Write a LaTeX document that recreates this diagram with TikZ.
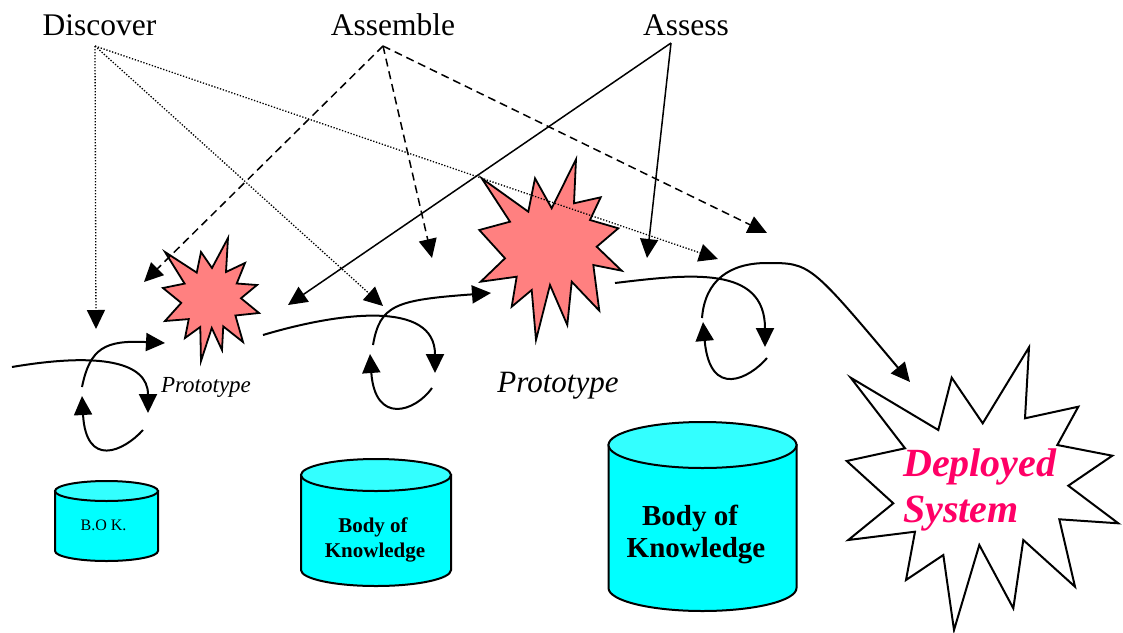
\documentclass[tikz,border=0pt]{standalone}
\usepackage{fontspec}
\setmainfont{Liberation Serif}
\usetikzlibrary{arrows.meta}
\definecolor{starred}{RGB}{255,128,128}
\definecolor{cyl}{RGB}{0,255,255}
\definecolor{cyltop}{RGB}{51,255,255}
\definecolor{deppink}{RGB}{255,0,102}
\begin{document}
\begin{tikzpicture}[x=1pt,y=-1pt,
  tip/.style={-{Triangle[length=19pt,width=18pt]}},
  dotline/.style={tip,line width=1.3pt,dash pattern=on 1.3pt off 1.7pt},
  dashline/.style={tip,line width=1.5pt,dash pattern=on 8pt off 5pt},
  solidline/.style={tip,line width=1.5pt},
  flow/.style={tip,line width=2pt},
  starshape/.style={fill=starred,draw=black,line width=1.8pt,line join=miter},
  depstar/.style={fill=white,draw=black,line width=2pt,line join=miter},
  cylbody/.style={fill=cyl,draw=black,line width=2pt},
  cyltopst/.style={fill=cyltop,draw=black,line width=2pt},
  txt/.style={inner sep=0pt,anchor=base},
  title/.style={txt,font=\fontsize{31.5}{36}\selectfont},
  proto/.style={txt,font=\itshape\fontsize{#1}{#1}\selectfont},
  bok/.style={txt,font=\bfseries\fontsize{#1}{#1}\selectfont},
  dep/.style={inner sep=0pt,anchor=base west,text=deppink,font=\bfseries\itshape\fontsize{40}{46}\selectfont}
]
\useasboundingbox (0,0) rectangle (1123,632);

% ---------- stars ----------
\filldraw[depstar] (850.7,377.7) -- (938.3,430) -- (951.7,377.7) -- (982.7,423.3) -- (1029,347.3) -- (1025,418.3) -- (1078.3,406.7) -- (1057.3,445) -- (1112.3,455.7) -- (1068.3,485.7) -- (1118.3,523.3) -- (1059.3,519.3) -- (1075,586.7) -- (1023.3,540) -- (1013.3,608.3) -- (979.3,545) -- (954,630) -- (943.3,555) -- (906,580) -- (915,531.7) -- (848.3,540) -- (893.3,503.3) -- (846.7,461) -- (905,448.3) -- cycle;

\filldraw[starshape] (165,252) -- (196.75,272.6) -- (201,252) -- (212,268) -- (228,238) -- (226,272) -- (245,263) -- (236.75,283.5) -- (257,285) -- (241,298.25) -- (259,313) -- (235.4,315.5) -- (243,342) -- (223.25,326.4) -- (222,350) -- (211.75,328) -- (201,361) -- (200.25,327) -- (185,338) -- (188.75,319.1) -- (165,321) -- (181.25,302.9) -- (163,288) -- (184.6,283.6) -- cycle;

\filldraw[starshape] (481.7,178.3) -- (528.3,211.7) -- (535,178.3) -- (551.7,208.3) -- (576,159.3) -- (574,203.3) -- (600.7,197.3) -- (590,220) -- (618.3,228.3) -- (596.7,246.7) -- (621.7,270.7) -- (593.3,265) -- (599.3,310.7) -- (571.7,281.7) -- (567.3,325) -- (550,285) -- (536,340) -- (531.7,290) -- (511.7,306.7) -- (516.7,276.7) -- (480.7,281.7) -- (505,258.3) -- (479.3,230) -- (510,221.7) -- cycle;

% ---------- cylinders ----------
\filldraw[cylbody] (55,491) -- (55,551) .. controls (55,556.5) and (78.1,561) .. (106.5,561) .. controls (134.9,561) and (158,556.5) .. (158,551) -- (158,491) -- cycle;
\filldraw[cyltopst] (106.5,491) ellipse [x radius=51.5, y radius=10];

\filldraw[cylbody] (301,475) -- (301,570) .. controls (301,578.8) and (334.6,586) .. (376,586) .. controls (417.4,586) and (451,578.8) .. (451,570) -- (451,475) -- cycle;
\filldraw[cyltopst] (376,475) ellipse [x radius=75, y radius=16];

\filldraw[cylbody] (608.5,445) -- (608.5,588) .. controls (608.5,600.7) and (650.6,611) .. (702.5,611) .. controls (754.4,611) and (796.5,600.7) .. (796.5,588) -- (796.5,445) -- cycle;
\filldraw[cyltopst] (702.5,445) ellipse [x radius=94, y radius=23];

% ---------- texts ----------
\node[title] (discover) at (99.5,35) {Discover};
\node[title] (assemble) at (393,35) {Assemble};
\node[title] (assess) at (686,35) {Assess};

\node[proto=23] (proto1) at (206,392) {Prototype};
\node[proto=31] (proto2) at (558,392) {Prototype};

\node[txt,font=\fontsize{16}{16}\selectfont] (bok1) at (103.5,530) {B.O K.};
\node[bok=21] (bok2a) at (373,532) {Body of};
\node[bok=21] (bok2b) at (375,557) {Knowledge};
\node[bok=29] (bok3a) at (690,525) {Body of};
\node[bok=29] (bok3b) at (696,557) {Knowledge};

\node[dep] (dep1) at (903,476) {Deployed};
\node[dep] (dep2) at (903,522) {System};

% ---------- apexes and targets ----------
\coordinate (dA) at (95,46);
\coordinate (aA) at (383,46);
\coordinate (sA) at (671,43);

\coordinate (d1) at (96,329);
\coordinate (d2) at (383,306);
\coordinate (d3) at (718,259);
\coordinate (a1) at (144,282);
\coordinate (a2) at (432,258);
\coordinate (a3) at (767,233);
\coordinate (s1) at (288,305);
\coordinate (s2) at (647,258);

\draw[dotline] (dA) -- (d1);
\draw[dotline] (dA) -- (d2);
\draw[dotline] (dA) -- (d3);
\draw[dashline] (aA) -- (a1);
\draw[dashline] (aA) -- (a2);
\draw[dashline] (aA) -- (a3);
\draw[solidline] (sA) -- (s1);
\draw[solidline] (sA) -- (s2);

% ---------- flow loops ----------
\coordinate (f1s) at (12,367);   \coordinate (f1e) at (148,413);
\coordinate (g1s) at (143,430);  \coordinate (g1e) at (82,396);
\coordinate (h1s) at (82,387);   \coordinate (h1e) at (165,343);
\draw[flow] (f1s) .. controls (100,352) and (148,362) .. (f1e);
\draw[flow] (g1s) .. controls (123,452) and (86,468) .. (g1e);
\draw[flow] (h1s) .. controls (90,348) and (105,340) .. (h1e);

\coordinate (f2s) at (263,335);  \coordinate (f2e) at (435,373);
\coordinate (g2s) at (432,388);  \coordinate (g2e) at (370,354);
\coordinate (h2s) at (373,345);  \coordinate (h2e) at (491,293);
\draw[flow] (f2s) .. controls (340,312) and (435,300) .. (f2e);
\draw[flow] (g2s) .. controls (415,412) and (375,425) .. (g2e);
\draw[flow] (h2s) .. controls (380,305) and (395,300) .. (h2e);

\coordinate (f3s) at (615,283);  \coordinate (f3e) at (765,347);
\coordinate (g3s) at (767,358);  \coordinate (g3e) at (703,322);
\coordinate (h3s) at (702,318);  \coordinate (h3m) at (767,263);
\coordinate (h3e) at (910,382);
\draw[flow] (f3s) .. controls (690,274) and (765,265) .. (f3e);
\draw[flow] (g3s) .. controls (750,378) and (710,400) .. (g3e);
\draw[flow] (h3s) .. controls (705,280) and (730,263) .. (h3m) .. controls (810,263) .. (h3e);
\end{tikzpicture}
\end{document}
